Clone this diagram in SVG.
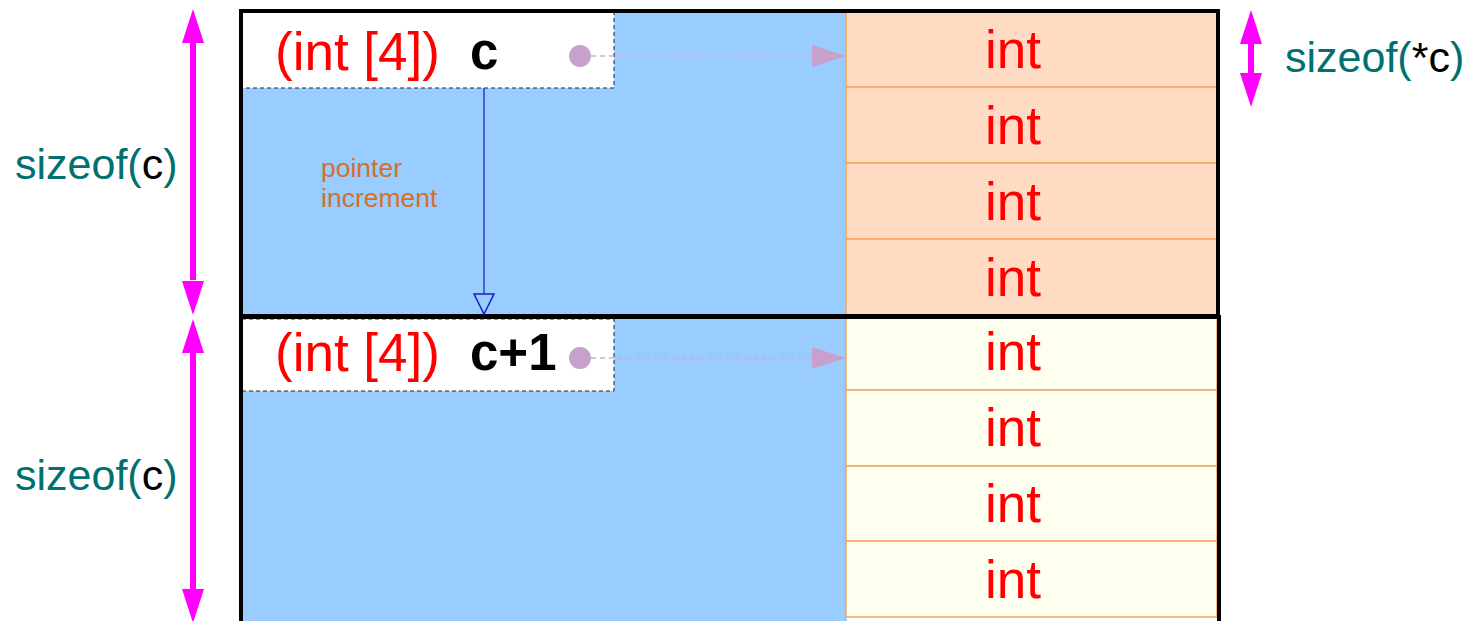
<svg xmlns="http://www.w3.org/2000/svg" width="1469" height="621" viewBox="0 0 1469 621">
<style>
.t{font-family:"Liberation Sans",Arial,sans-serif}
.red{fill:#ff0000;font-size:53px}
.int{fill:#ff0000;font-size:53px;text-anchor:middle}
.var{fill:#000;font-size:51px;font-weight:bold}
.sz{fill:#007070;font-size:43px}
.cellA{fill:#ffdbc4;stroke:#f4a460;stroke-width:1.5}
.cellB{fill:#fffff0;stroke:#f4a460;stroke-width:1.5}
.lbl{fill:#fff;stroke:#222;stroke-width:1;stroke-dasharray:4 3}
.ptr{stroke:#d6a6d6;stroke-width:1.5;stroke-dasharray:5 4;fill:none}
</style>
<defs>
<marker id="ptrHead" markerWidth="34" markerHeight="22" refX="34" refY="11" orientation="auto" markerUnits="userSpaceOnUse">
<path d="M0,0 L34,11 L0,22 Z" fill="#c8a0cc"/>
</marker>
<marker id="hollow" markerWidth="22" markerHeight="22" refX="11" refY="21" markerUnits="userSpaceOnUse">
<path d="M1,1 L21,1 L11,21 Z" fill="#99ccff" stroke="#1a1acc" stroke-width="1.5"/>
</marker>
</defs>

<g id="block1">
<rect x="241" y="11" width="606" height="305" fill="#99ccff"/>
<rect x="242" y="12" width="372" height="76" class="lbl"/>
<text x="275" y="70" class="t red">(int [4])</text>
<text x="470" y="69" class="t var">c</text>
<circle cx="580" cy="56" r="11" fill="#c8a0cc"/>
<rect x="846" y="11" width="371" height="76" class="cellA"/>
<rect x="846" y="87" width="371" height="76" class="cellA"/>
<rect x="846" y="163" width="371" height="76" class="cellA"/>
<rect x="846" y="239" width="371" height="76" class="cellA"/>
<text x="1013" y="68" class="t int">int</text>
<text x="1013" y="144" class="t int">int</text>
<text x="1013" y="220" class="t int">int</text>
<text x="1013" y="296" class="t int">int</text>
<rect x="241" y="11" width="977" height="305" fill="none" stroke="#000" stroke-width="4"/>
</g>

<g id="block2">
<rect x="241" y="318" width="606" height="303" fill="#99ccff"/>
<rect x="242" y="319" width="372" height="72" class="lbl"/>
<text x="275" y="371" class="t red">(int [4])</text>
<text x="470" y="370" class="t var">c+1</text>
<circle cx="580" cy="358" r="11" fill="#c8a0cc"/>
<rect x="846" y="318" width="371" height="72" class="cellB"/>
<rect x="846" y="390" width="371" height="76" class="cellB"/>
<rect x="846" y="466" width="371" height="75" class="cellB"/>
<rect x="846" y="541" width="371" height="76" class="cellB"/>
<text x="1013" y="370" class="t int">int</text>
<text x="1013" y="446" class="t int">int</text>
<text x="1013" y="522" class="t int">int</text>
<text x="1013" y="598" class="t int">int</text>
<path d="M241,317 V623 M1219,317 V623 M239,317 H1221" stroke="#000" stroke-width="4" fill="none"/>
</g>

<g id="labels">
<text x="15" y="179" class="t sz">sizeof(<tspan fill="#000">c</tspan>)</text>
<text x="15" y="490" class="t sz">sizeof(<tspan fill="#000">c</tspan>)</text>
<text x="1285" y="72" class="t sz">sizeof(<tspan fill="#000">*c</tspan>)</text>
<text x="321" y="177" class="t" style="fill:#d4702a;font-size:26.5px">pointer</text>
<text x="321" y="207" class="t" style="fill:#d4702a;font-size:26.5px">increment</text>
</g>

<g id="connectors">
<line x1="591" y1="56" x2="846" y2="56" class="ptr" marker-end="url(#ptrHead)"/>
<line x1="591" y1="358" x2="846" y2="358" class="ptr" marker-end="url(#ptrHead)"/>
<line x1="484" y1="88" x2="484" y2="314" stroke="#2a3fdd" stroke-width="1.5" marker-end="url(#hollow)"/>
<g fill="#ff00ff">
<rect x="190" y="40" width="6" height="240"/>
<path d="M193,9 L204,43 L182,43 Z"/>
<path d="M193,315 L204,281 L182,281 Z"/>
<rect x="190" y="350" width="6" height="240"/>
<path d="M193,319 L204,353 L182,353 Z"/>
<path d="M193,623 L204,589 L182,589 Z"/>
<rect x="1248" y="38" width="6" height="42"/>
<path d="M1251,10 L1262,44 L1240,44 Z"/>
<path d="M1251,107 L1262,73 L1240,73 Z"/>
</g>
</g>
</svg>
